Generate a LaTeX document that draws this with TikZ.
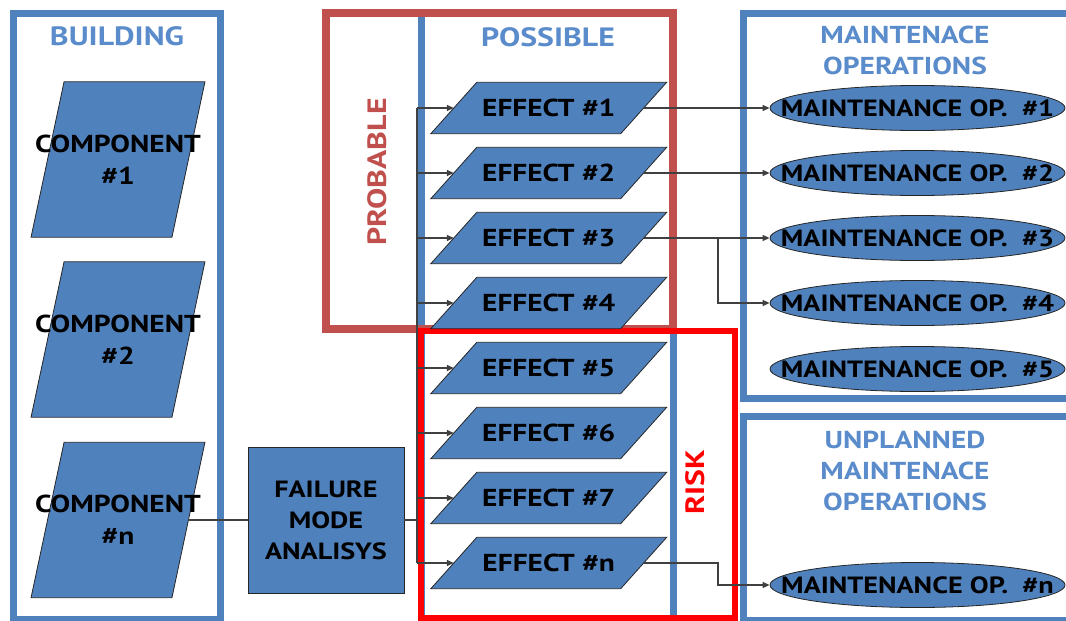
\documentclass[tikz,border=0pt]{standalone}
\usepackage{fontspec}
\setmainfont{PT Sans}[FakeStretch=1.2]
\usetikzlibrary{shapes.geometric,arrows.meta,backgrounds}
\pgfdeclarelayer{mid}
\pgfsetlayers{background,mid,main}
\definecolor{obl}{HTML}{4F81BD}
\definecolor{tbl}{HTML}{5A8BCB}
\definecolor{pred}{HTML}{C0504D}
\definecolor{lnk}{HTML}{404040}
\begin{document}
\begin{tikzpicture}[x=1pt,y=-1pt,
  frame/.style={draw=obl,line width=7pt},
  ttl/.style={text=tbl,font=\bfseries\fontsize{26.5}{31}\selectfont,align=center},
  ttlr/.style={ttl,font=\bfseries\fontsize{24.5}{31}\selectfont},
  shp/.style={fill=obl,draw=black!85,line width=0.8pt},
  comp/.style={rectangle,minimum width=140.5pt,minimum height=155pt,inner sep=0pt},
  comptxt/.style={font=\bfseries\fontsize{24.5}{32}\selectfont,align=center,text=black},
  eff/.style={rectangle,minimum width=189.5pt,minimum height=51pt,inner sep=0pt,
    font=\bfseries\fontsize{24.5}{30}\selectfont,text=black},
  mop/.style={ellipse,minimum width=295pt,minimum height=45pt,inner sep=0pt,fill=obl,draw=black!85,line width=0.8pt},
  moptxt/.style={font=\bfseries\fontsize{23.5}{28}\selectfont,text=black},
  fma/.style={rectangle,minimum width=156pt,minimum height=146pt,fill=obl,draw=black!85,line width=0.8pt,
    font=\bfseries\fontsize{23.5}{31}\selectfont,align=center},
  link/.style={draw=lnk,line width=1.4pt},
  arr/.style={link,-{Triangle[length=7pt,width=6pt]}}
]
\useasboundingbox (0,0) rectangle (1066,621);
\begin{pgfonlayer}{background}
\clip (0,0) rectangle (1066,621);
\draw[frame] (13,13) rectangle (220,619);
\draw[frame] (421,13) rectangle (673,619);
\draw[frame] (743,13) rectangle (1080,398);
\draw[frame] (743,416) rectangle (1080,620);
\draw[draw=pred,line width=7.5pt] (326,13) rectangle (673,329);
\draw[draw=red,line width=6.5pt] (421,331) rectangle (735,618);
\end{pgfonlayer}
% titles
\node[ttl] (tb) at (117,36) {BUILDING};
\node[ttl] (tp) at (548,37) {POSSIBLE};
\node[ttlr] (tm) at (905,50) {MAINTENACE\\OPERATIONS};
\node[ttlr] (tu) at (905,471) {UNPLANNED\\MAINTENACE\\OPERATIONS};
\node[ttl,text=pred,rotate=90] (tpr) at (377,172) {PROBABLE};
\node[ttl,text=red,rotate=90] (tr) at (695,482) {RISK};
% components
\foreach \i/\y in {1/159.5,2/339.5,n/520}{
  \node[comp,label={[comptxt]center:COMPONENT\\\#\i}] (c\i) at (118,\y) {};
  \begin{pgfonlayer}{mid}
  \filldraw[shp] ([xshift=16.5pt]c\i.north west) -- ([xshift=16.5pt]c\i.north east)
    -- ([xshift=-16.5pt]c\i.south east) -- ([xshift=-16.5pt]c\i.south west) -- cycle;
  \end{pgfonlayer}
}
% failure mode analysis
\node[fma] (fm) at (326,520) {FAILURE\\MODE\\ANALISYS};
% effects
\foreach \i/\y in {1/108,2/173,3/238,4/303,5/368,6/433,7/498,n/563}{
  \node[eff] (e\i) at (548.75,\y) {EFFECT \#\i};
  \begin{pgfonlayer}{mid}
  \filldraw[shp] ([xshift=23pt]e\i.north west) -- ([xshift=23pt]e\i.north east)
    -- ([xshift=-23pt]e\i.south east) -- ([xshift=-23pt]e\i.south west) -- cycle;
  \end{pgfonlayer}
}
% maintenance operations
\foreach \i/\y in {1/108,2/173,3/238,4/303,5/369,n/585}
  \node[mop,label={[moptxt]center:MAINTENANCE OP.\ \ \#\i}] (m\i) at (917.5,\y) {};
% connectors
\coordinate (bt) at (417,108);
\coordinate (bb) at (417,563);
\coordinate (j3) at (718,238);
\coordinate (jn) at (718,563);
\draw[link] (cn.east) -- (fm.west);
\draw[link] (fm.east) -- (fm.east -| bt);
\draw[link] (bt) -- (bb);
\foreach \i in {1,2,3,4,5,6,7,n}
  \draw[arr] (bt |- e\i.west) -- (e\i.west);
\draw[arr] (e1.east) -- (m1.west);
\draw[arr] (e2.east) -- (m2.west);
\draw[arr] (e3.east) -- (m3.west);
\draw[arr] (j3) |- (m4.west);
\draw[arr] (en.east) -- (jn) |- (mn.west);
\end{tikzpicture}
\end{document}
